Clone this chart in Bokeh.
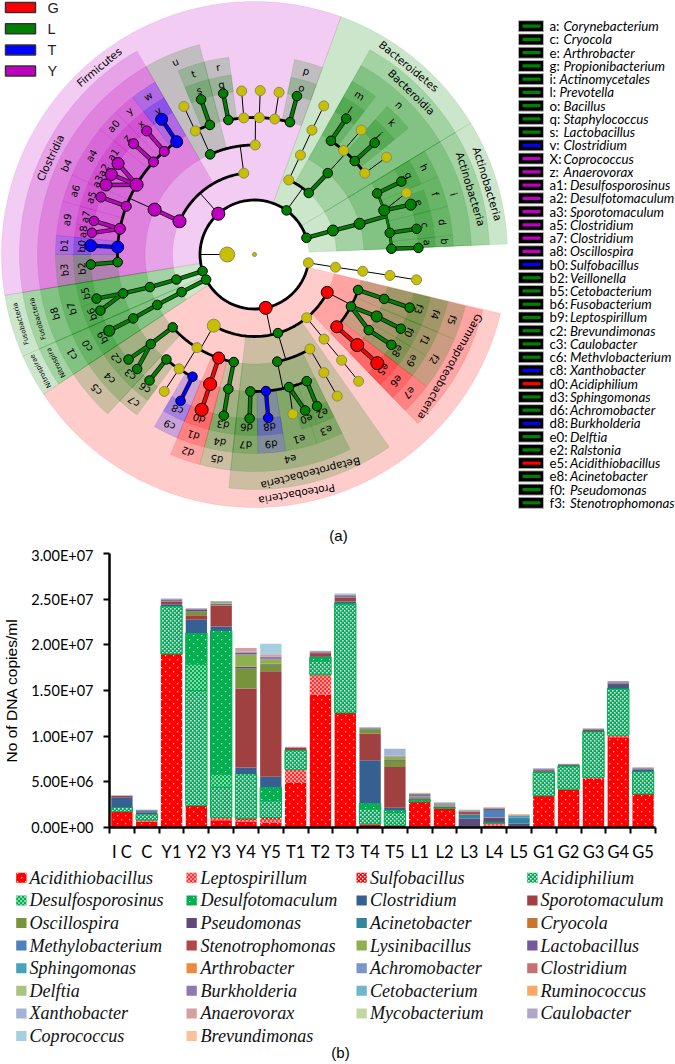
import math
import numpy as np
from bokeh.plotting import figure
from bokeh.models import Range1d, FixedTicker, CanvasTexture
from bokeh.core.properties import value
from bokeh.embed import file_html
from bokeh.resources import INLINE

# ---------- cladogram data: (id, parent, level, angle clockwise from east, class)
root_nodes = [("K", None, 1, 180, "n"), ("K0", None, 0, 0, "n")]
phylum_nodes = [("Act", "K", 2, 342.2, "L"), ("Bct", "K", 2, 306, "L"), ("Fir", "K", 2, 228.4, "Y"),
                ("Fus", "K", 2, 162.3, "L"), ("Nit", "K", 2, 152.6, "L"), ("Pro", "K", 2, 78.2, "G"),
                ("Unk", "K", 2, 8.8, "n")]
unknown_nodes = [("U1", "Unk", 3, 8.9, "n"), ("U2", "U1", 4, 8.8, "n"), ("U3", "U2", 5, 8.8, "n"), ("U4", "U3", 6, 8.9, "n")]
clostridia_nodes = [("Cl", "Fir", 3, 203.9, "Y"), ("b4", "Cl", 4, 204.2, "Y"),
    ("b3", "b4", 5, 176.8, "L"), ("b1", "b4", 5, 183.1, "T"), ("a9", "b4", 5, 190.8, "Y"), ("a6", "b4", 5, 200.6, "Y"),
    ("a4", "b4", 5, 210.6, "Y"), ("a0", "b4", 5, 222.5, "Y"), ("yy", "b4", 5, 228.8, "Y"), ("w", "b4", 5, 235.4, "T"),
    ("b2", "b3", 6, 176.5, "L"), ("b0", "b1", 6, 183.1, "T"), ("a8", "a9", 6, 187.6, "Y"), ("a7", "a9", 6, 191.8, "Y"),
    ("a5", "a6", 6, 200.5, "Y"), ("a3", "a4", 6, 205.1, "Y"), ("a2", "a4", 6, 209.2, "Y"), ("a1", "a4", 6, 213.7, "Y"),
    ("z", "a0", 6, 222.5, "Y"), ("x", "yy", 6, 228.9, "Y"), ("v", "w", 6, 235.5, "T")]
bacilli_nodes = [("Ba", "Fir", 3, 262.5, "n"), ("u", "Ba", 4, 246.1, "L"), ("B2", "Ba", 4, 270.4, "n"),
    ("B3", "u", 5, 244.4, "n"), ("t", "u", 5, 251, "L"), ("r", "B2", 5, 259, "L"), ("B4", "B2", 5, 265.5, "n"),
    ("B5", "B2", 5, 272, "n"), ("B6", "B2", 5, 278.5, "n"), ("p", "B2", 5, 285, "L"),
    ("B7", "B3", 6, 244.5, "n"), ("s", "t", 6, 251, "L"), ("q", "r", 6, 259, "L"), ("B8", "B4", 6, 265.5, "n"),
    ("B9", "B5", 6, 272, "n"), ("B10", "B6", 6, 278.6, "n"), ("o", "p", 6, 285, "L")]
bacteroidetes_nodes = [("C1", "Bct", 3, 294.7, "n"), ("C2", "Bct", 3, 311.4, "L"), ("C3", "C1", 4, 294.8, "n"),
    ("C4", "C3", 5, 294.8, "n"), ("C5", "C4", 6, 295, "n"), ("n", "C2", 4, 312, "L"),
    ("m", "n", 5, 303.9, "L"), ("C6", "n", 5, 310.6, "n"), ("k", "n", 5, 317, "L"), ("C7", "n", 5, 323.6, "n"),
    ("l", "m", 6, 304, "L"), ("C8", "C6", 6, 310.6, "n"), ("j", "k", 6, 317.1, "L"), ("C9", "C7", 6, 323.6, "n")]
actino_nodes = [("A1", "Act", 3, 343, "L"), ("i", "A1", 4, 343.7, "L"), ("h", "i", 5, 333.5, "L"), ("f", "i", 5, 341.2, "L"),
    ("d", "i", 5, 350.9, "L"), ("bb", "i", 5, 357.6, "L"), ("g", "h", 6, 333.6, "L"), ("A2", "f", 6, 337.9, "n"),
    ("e", "f", 6, 342.3, "L"), ("c", "d", 6, 351, "L"), ("a", "bb", 6, 357.7, "L")]
fuso_nodes = [("F1", "Fus", 3, 162.2, "L"), ("F2", "F1", 4, 162.7, "L"), ("F3", "F2", 5, 163.5, "L"),
    ("b5", "F3", 6, 164.4, "L"), ("b6", "F3", 6, 160, "L")]
nitro_nodes = [("N1", "Nit", 3, 152.7, "L"), ("N2", "N1", 4, 152.6, "L"), ("N3", "N2", 5, 152.2, "L"), ("b9", "N3", 6, 152.3, "L")]
alpha_nodes = [("P1", "Pro", 3, 119.8, "n"), ("c5", "P1", 4, 138.3, "L"), ("P2", "P1", 4, 121.7, "n"),
    ("d2", "P1", 4, 109.1, "G"), ("d5", "P1", 4, 100.9, "L"), ("c4", "c5", 5, 139.2, "L"), ("c7", "P2", 5, 130, "L"),
    ("P3", "P2", 5, 123.4, "n"), ("c9", "P2", 5, 116.9, "T"), ("d1", "d2", 5, 108.9, "G"), ("d4", "d5", 5, 101, "L"),
    ("c2", "c4", 6, 140.2, "L"), ("c3", "c4", 6, 135.7, "L"), ("c6", "c7", 6, 129.8, "L"), ("P4", "P3", 6, 123.4, "n"),
    ("c8", "c9", 6, 116.8, "T"), ("d0", "d1", 6, 108.8, "G"), ("d3", "d4", 6, 100.8, "L")]
beta_nodes = [("E1", "Pro", 3, 73.4, "L"), ("e4", "E1", 4, 78, "L"), ("E2", "E1", 4, 59.6, "n"), ("d7", "e4", 5, 91.7, "L"),
    ("d9", "e4", 5, 85.2, "T"), ("e1", "e4", 5, 75.4, "L"), ("e3", "e4", 5, 67.6, "L"), ("E3", "E2", 5, 59.6, "n"),
    ("d6", "d7", 6, 91.7, "L"), ("d8", "d9", 6, 85.2, "T"), ("E4", "e1", 6, 76.5, "n"), ("e0", "e1", 6, 72, "L"),
    ("e2", "e3", 6, 67.6, "L"), ("E5", "E3", 6, 59.7, "n")]
gamma_nodes = [("Y1", "Pro", 3, 50.5, "n"), ("Y2", "Y1", 4, 50.6, "n"), ("Y3", "Y2", 5, 50.5, "n"), ("Y4", "Y3", 6, 50.6, "n"),
    ("Ga", "Pro", 3, 27.5, "G"), ("f5", "Ga", 4, 18.9, "L"), ("f2", "Ga", 4, 28.3, "L"), ("e7", "Ga", 4, 41.3, "G"),
    ("f4", "f5", 5, 18.9, "L"), ("f1", "f2", 5, 26.9, "L"), ("e9", "f2", 5, 33.5, "L"), ("e6", "e7", 5, 41.4, "G"),
    ("f3", "f4", 6, 18.9, "L"), ("f0", "f1", 6, 26.9, "L"), ("e8", "e9", 6, 33.4, "L"), ("e5", "e6", 6, 41.5, "G")]
big_nodes = {"K": 15, "K0": 4, "a1": 12, "a2": 12, "a3": 12, "a4": 13, "v": 12, "w": 12, "b1": 12, "b0": 12, "Cl": 13, "b4": 13,
             "Fir": 13, "d0": 13, "d1": 13, "d2": 12, "e5": 13, "e6": 13, "e7": 12, "Ga": 12, "a6": 10, "a0": 10, "yy": 10, "x": 10, "z": 10,
             "Pro": 13, "P1": 13, "b9": 11, "f1": 11, "e": 11, "f": 11, "A1": 11, "i": 11, "a9": 11, "a5": 10}

# ---------- cladogram shaded clades: (label, level, start angle, end angle, class)
firmicutes_clades = [("Firmicutes", 2, 170.7, 290, "Y"), ("Clostridia", 3, 170.7, 240, "Y"), ("b4", 4, 170.7, 240, "Y"),
    ("b3", 5, 170.7, 180, "L"), ("b1", 5, 180, 185.5, "T"), ("a9", 5, 185.5, 195.5, "Y"), ("a6", 5, 195.5, 203.5, "Y"),
    ("a4", 5, 203.5, 219, "Y"), ("a0", 5, 219, 225.7, "Y"), ("y", 5, 225.7, 232.2, "Y"), ("w", 5, 232.2, 240, "T"),
    ("b2", 6, 170.7, 180, "L"), ("b0", 6, 180, 185.5, "T"), ("a8", 6, 185.5, 189.7, "Y"), ("a7", 6, 189.7, 195.5, "Y"),
    ("a5", 6, 195.5, 203, "Y"), ("a3", 6, 203, 207, "Y"), ("a2", 6, 207, 211.5, "Y"), ("a1", 6, 211.5, 219, "Y"),
    ("z", 6, 219, 225.7, "Y"), ("x", 6, 225.7, 232.2, "Y"), ("v", 6, 232.2, 240, "T"),
    ("u", 4, 240, 255.3, "L"), ("t", 5, 247.4, 255.3, "L"), ("s", 6, 247.4, 255.3, "L"), ("r", 5, 255.3, 262.6, "L"),
    ("q", 6, 255.3, 262.6, "L"), ("p", 5, 281.6, 290, "L"), ("o", 6, 281.6, 290, "L")]
bacteroidetes_clades = [("Bacteroidetes", 2, 290, 328.7, "L"), ("Bacteroidia", 3, 299.4, 328.7, "L"), ("n", 4, 299.4, 328.7, "L"),
    ("m", 5, 299.4, 307.5, "L"), ("l", 6, 299.4, 307.5, "L"), ("k", 5, 311.8, 320.6, "L"), ("j", 6, 311.8, 320.6, "L")]
actino_clades = [("Actinobacteria", 2, 328.7, 357.6, "L"), ("Actinobacteria", 3, 328.7, 357.6, "L"), ("i", 4, 328.7, 357.6, "L"),
    ("h", 5, 328.7, 337, "L"), ("f", 5, 337, 346, "L"), ("d", 5, 346, 354.5, "L"), ("b", 5, 354.5, 357.6, "L"),
    ("g", 6, 328.7, 337, "L"), ("e", 6, 339, 346, "L"), ("c", 6, 346, 354.5, "L"), ("a", 6, 354.5, 357.6, "L")]
fuso_clades = [("Fusobacteria", 2, 156.3, 170.7, "L"), ("Fusobacteria", 3, 156.3, 170.7, "L"), ("b8", 4, 156.3, 170.7, "L"),
    ("b7", 5, 156.3, 170.7, "L"), ("b5", 6, 163.3, 170.7, "L"), ("b6", 6, 156.3, 163.3, "L")]
nitro_clades = [("Nitrospirae", 2, 146.5, 156.3, "L"), ("Nitrospira", 3, 146.5, 156.3, "L"), ("c1", 4, 146.5, 156.3, "L"),
    ("c0", 5, 146.5, 156.3, "L"), ("b9", 6, 146.5, 156.3, "L")]
proteo_clades = [("Proteobacteria", 2, 13.5, 146.5, "G"), ("Betaproteobacteria", 3, 55, 96.3, "L"), ("e4", 4, 63.9, 96.3, "L"),
    ("e3", 5, 63.9, 71.7, "L"), ("e1", 5, 71.7, 81, "L"), ("d9", 5, 81, 89, "T"), ("d7", 5, 89, 96.3, "L"),
    ("e2", 6, 63.9, 69.9, "L"), ("e0", 6, 69.9, 75, "L"), ("d8", 6, 81, 89, "T"), ("d6", 6, 89, 96.3, "L"),
    ("Gammaproteobacteria", 3, 13.7, 46, "G"), ("f5", 4, 13.7, 23, "L"), ("f2", 4, 23, 37.5, "L"), ("e7", 4, 37.5, 46, "G"),
    ("f4", 5, 13.7, 23, "L"), ("f1", 5, 23, 30.5, "L"), ("e9", 5, 30.5, 37.5, "L"), ("e6", 5, 37.5, 46, "G"),
    ("f3", 6, 13.7, 23, "L"), ("f0", 6, 23, 30.5, "L"), ("e8", 6, 30.5, 37.5, "L"), ("e5", 6, 37.5, 46, "G"),
    ("c5", 4, 132.6, 146.5, "L"), ("c4", 5, 132.6, 146.5, "L"), ("c2", 6, 139.4, 146.5, "L"), ("c3", 6, 132.6, 139.4, "L"),
    ("c7", 5, 126.2, 132.6, "L"), ("c6", 6, 126.2, 132.6, "L"), ("c9", 5, 112.8, 120.2, "T"), ("c8", 6, 112.8, 120.2, "T"),
    ("d2", 4, 104.6, 112.8, "G"), ("d1", 5, 104.6, 112.8, "G"), ("d0", 6, 104.6, 112.8, "G"),
    ("d5", 4, 96.3, 104.6, "L"), ("d4", 5, 96.3, 104.6, "L"), ("d3", 6, 96.3, 104.6, "L")]

class_names = ["G", "L", "T", "Y"]
taxa_prefix = ["a", "c", "e", "g", "i", "l", "o", "q", "s", "v", "X", "z", "a1", "a2", "a3", "a5", "a7", "a8", "b0", "b2", "b5", "b6", "b9",
               "c2", "c3", "c6", "c8", "d0", "d3", "d6", "d8", "e0", "e2", "e5", "e8", "f0", "f3"]
taxa_names = ["Corynebacterium", "Cryocola", "Arthrobacter", "Propionibacterium", "Actinomycetales", "Prevotella", "Bacillus",
              "Staphylococcus", "Lactobacillus", "Clostridium", "Coprococcus", "Anaerovorax", "Desulfosporosinus", "Desulfotomaculum",
              "Sporotomaculum", "Clostridium", "Clostridium", "Oscillospira", "Sulfobacillus", "Veillonella", "Cetobacterium",
              "Fusobacterium", "Leptospirillum", "Brevundimonas", "Caulobacter", "Methvlobacterium", "Xanthobacter", "Acidiphilium",
              "Sphingomonas", "Achromobacter", "Burkholderia", "Delftia", "Ralstonia", "Acidithiobacillus", "Acinetobacter",
              "Pseudomonas", "Stenotrophomonas"]
taxa_class = ["L"] * 9 + ["T"] + ["Y"] * 8 + ["T"] + ["L"] * 7 + ["T", "G", "L", "L", "T", "L", "L", "G", "L", "L", "L"]

# ---------- bar chart data, millions of copies per ml
samples = ["I C", "C", "Y1", "Y2", "Y3", "Y4", "Y5", "T1", "T2", "T3", "T4", "T5", "L1", "L2", "L3", "L4", "L5", "G1", "G2", "G3", "G4", "G5"]
y_ticks = [0, 5e6, 1e7, 1.5e7, 2e7, 2.5e7, 3e7]
y_tick_labels = ["0.00E+00", "5.00E+06", "1.00E+07", "1.50E+07", "2.00E+07", "2.50E+07", "3.00E+07"]
Acidithiobacillus = [1.76, .66, 19.0, 2.4, .8, .66, .55, 4.87, 14.53, 12.55, .3, .25, 2.82, 2.09, .02, .2, .02, 3.48, 4.2, 5.3, 9.88, 3.66]
Leptospirillum = [0, .15, 0, 0, .3, .15, .3, 1.46, 2.2, 0, .07, 0, 0, 0, 0, .15, 0, 0, 0, .18, .22, 0]
Sulfobacillus = [0, 0, 0, 0, 0, .2, .25, 0, 0, 0, 0, 0, 0, 0, 0, .1, 0, 0, 0, 0, 0, 0]
Acidiphilium = [.44, .65, 5.2, 12.6, 3.3, 4.85, 1.83, 2.1, 1.5, 11.9, 1.65, 1.4, 0, 0, .05, 0, 0, 2.56, 2.53, 5.0, 5.08, 2.45]
Desulfosporosinus = [0, 0, 0, 2.9, 1.45, 0, 0, 0, 0, 0, 0, 0, 0, 0, 0, 0, 0, 0, 0, 0, 0, 0]
Desulfotomaculum = [0, 0, .05, 3.4, 15.7, 0, 1.47, .05, .44, .1, .63, .25, .22, .11, .1, .08, 0, .03, .03, .03, .03, .03]
Clostridium = [1.1, .2, .2, 1.45, .45, .7, 1.16, 0, .05, .2, 4.7, .25, .06, .06, 0, 0, .05, .05, .05, .05, .4, .2]
Sporotomaculum = [.14, .05, .3, .5, 2.3, 8.65, 11.56, .25, .3, .44, 2.93, 4.47, .1, .05, 0, 0, 0, .15, .05, .12, .12, .1]
Oscillospira = [0, 0, .03, .44, .1, 2.2, .73, 0, 0, .03, .47, .7, .12, .05, 0, .03, 0, 0, 0, 0, .05, 0]
Pseudomonas = [0, .08, .1, .12, .08, .15, .08, .03, .1, .1, .08, .06, .03, .03, .8, .5, .35, .06, .03, .06, .06, .03]
Acinetobacter = [0, .03, 0, 0, 0, 0, 0, 0, 0, 0, 0, 0, .05, .05, .46, 0, .5, 0, 0, 0, .03, 0]
Cryocola = [0, 0, 0, 0, 0, 0, 0, 0, 0, 0, 0, 0, .03, .05, 0, .05, 0, 0, 0, 0, 0, 0]
Methylobacterium = [0, .03, .03, .02, .02, .03, 0, 0, .03, .08, 0, 0, .12, .06, 0, .8, .2, .05, .03, .03, .06, .05]
Stenotrophomonas = [.03, .02, .03, .03, .02, 0, 0, .02, .06, .03, 0, 0, .1, .05, .26, .12, 0, .03, .02, .02, .03, .02]
Lysinibacillus = [0, 0, 0, 0, .15, 1.35, .5, 0, 0, 0, 0, .37, 0, 0, 0, 0, 0, 0, 0, 0, 0, 0]
Lactobacillus = [0, .05, .03, .05, .05, .2, .1, 0, .03, .03, .05, .05, .02, .02, .03, .05, 0, .02, .02, .02, .03, 0]
Sphingomonas = [0, .03, 0, 0, 0, 0, 0, 0, 0, 0, 0, 0, .02, .05, .1, .05, .2, 0, 0, 0, 0, 0]
Arthrobacter = [0, 0, 0, 0, 0, 0, 0, 0, 0, 0, 0, 0, .03, .03, .03, .02, .05, 0, 0, 0, 0, 0]
Achromobacter = [0, 0, .03, .03, .02, .05, 0, .02, .03, .05, .05, 0, .02, .03, .04, .05, .03, .02, 0, .02, .03, 0]
Clostridium_b = [.02, 0, 0, 0, 0, 0, 0, 0, .02, 0, 0, 0, .02, .02, .03, 0, 0, 0, 0, 0, .03, .04]
Delftia = [0, 0, 0, 0, 0, 0, 0, 0, 0, 0, .02, .03, 0, 0, 0, 0, 0, 0, 0, 0, 0, 0]
Burkholderia = [0, 0, .03, .03, .02, .05, .2, 0, .03, 0, 0, .03, 0, 0, 0, 0, 0, 0, 0, 0, 0, 0]
Cetobacterium = [0, 0, 0, 0, 0, 0, 0, 0, 0, 0, 0, 0, 0, 0, 0, 0, .03, 0, 0, 0, 0, 0]
Ruminococcus = [0, 0, 0, 0, 0, 0, 0, 0, 0, 0, 0, 0, .02, .02, .03, .03, .04, 0, 0, 0, 0, 0]
Xanthobacter = [0, 0, .03, .03, 0, 0, 0, .03, .02, .08, 0, .73, 0, 0, 0, 0, 0, .03, .02, 0, 0, 0]
Anaerovorax = [0, 0, 0, 0, 0, .4, .25, 0, 0, 0, 0, 0, 0, 0, 0, 0, 0, 0, 0, 0, 0, 0]
Mycobacterium = [0, 0, 0, 0, 0, 0, 0, 0, 0, 0, 0, 0, 0, 0, 0, 0, 0, 0, 0, 0, 0, 0]
Caulobacter = [0, 0, 0, .03, .03, 0, 0, 0, 0, .02, .05, .02, 0, 0, 0, 0, 0, 0, 0, 0, 0, 0]
Coprococcus = [0, 0, 0, 0, 0, 0, 1.13, 0, 0, 0, 0, 0, 0, 0, 0, 0, 0, 0, 0, 0, 0, 0]
Brevundimonas = [0, 0, 0, 0, 0, 0, 0, 0, 0, 0, 0, 0, .02, .01, .02, .02, .02, 0, 0, 0, 0, 0]

series = [("Acidithiobacillus", Acidithiobacillus), ("Leptospirillum", Leptospirillum), ("Sulfobacillus", Sulfobacillus),
          ("Acidiphilium", Acidiphilium), ("Desulfosporosinus", Desulfosporosinus), ("Desulfotomaculum", Desulfotomaculum),
          ("Clostridium", Clostridium), ("Sporotomaculum", Sporotomaculum), ("Oscillospira", Oscillospira),
          ("Pseudomonas", Pseudomonas), ("Acinetobacter", Acinetobacter), ("Cryocola", Cryocola),
          ("Methylobacterium", Methylobacterium), ("Stenotrophomonas", Stenotrophomonas), ("Lysinibacillus", Lysinibacillus),
          ("Lactobacillus", Lactobacillus), ("Sphingomonas", Sphingomonas), ("Arthrobacter", Arthrobacter),
          ("Achromobacter", Achromobacter), ("Clostridium", Clostridium_b), ("Delftia", Delftia), ("Burkholderia", Burkholderia),
          ("Cetobacterium", Cetobacterium), ("Ruminococcus", Ruminococcus), ("Xanthobacter", Xanthobacter),
          ("Anaerovorax", Anaerovorax), ("Mycobacterium", Mycobacterium), ("Caulobacter", Caulobacter),
          ("Coprococcus", Coprococcus), ("Brevundimonas", Brevundimonas)]
series_colors = ["#ff0000", "#ff3030", "#ff0000", "#00b050", "#00b050", "#00b050", "#376092", "#a04040", "#77933c", "#604a7b", "#31859c",
                 "#c87530", "#4f81bd", "#b04848", "#8fb04f", "#73589a", "#45a3bd", "#ee8a3c", "#7a96c8", "#c87070", "#a9c47f",
                 "#8f7ab0", "#6fb7d0", "#fba765", "#a3b4d8", "#d6a0a0", "#c4d6a0", "#b2a6c8", "#a5cfdf", "#fcc09a"]

# ---------- fill textures
sparse_dots = CanvasTexture(code="ctx.canvas.width=8;ctx.canvas.height=8;ctx.fillStyle='rgba(255,255,255,0.9)';ctx.fillRect(1,1,1.2,1.2);ctx.fillRect(5,5,1.2,1.2);", repetition="repeat")
fine_check = CanvasTexture(code="ctx.canvas.width=4;ctx.canvas.height=4;ctx.fillStyle='rgba(255,255,255,0.95)';ctx.fillRect(0,0,1.5,1.5);ctx.fillRect(2,2,1.5,1.5);", repetition="repeat")
check_strong = CanvasTexture(code="ctx.canvas.width=4;ctx.canvas.height=4;ctx.fillStyle='rgba(255,255,255,0.5)';ctx.fillRect(0,0,2,2);ctx.fillRect(2,2,2,2);", repetition="repeat")
textures = {"sparse": sparse_dots, "fine": fine_check, "strong": check_strong}
series_hatch = {0: "sparse", 1: "strong", 2: "fine", 3: "fine", 4: "strong", 5: "sparse"}


def hatch_args(i):
    if i not in series_hatch:
        return {}
    return dict(hatch_pattern=value(series_hatch[i]), hatch_extra=textures, hatch_color="white")


# ---------- page geometry
CX, CY = 254, 254
F1H, F2H, F3H = 546, 318, 200
RAD = {0: 0, 1: 27.3, 2: 54.5, 3: 82, 4: 109.5, 5: 137, 6: 164}
OUT = {2: 253, 3: 235, 4: 217, 5: 199, 6: 181}
LAB = {2: 243.5, 3: 226, 4: 208, 5: 190.5, 6: 173}
COL = {"G": "#ff0000", "L": "#008000", "T": "#0000ff", "Y": "#c000c0", "n": "#c8bf00"}


def pol(r, a):
    t = math.radians(a)
    return r * math.cos(t), -r * math.sin(t)


def base(w, h, xr, yr):
    f = figure(width=w, height=h, x_range=xr, y_range=yr, output_backend="svg", toolbar_location=None,
               min_border=0, min_border_left=0, min_border_right=0, min_border_top=0, min_border_bottom=0, margin=0)
    f.outline_line_color = None
    f.grid.visible = False
    f.axis.visible = False
    return f


# ---------- cladogram
f1 = base(675, F1H, Range1d(-CX, 675 - CX), Range1d(CY - F1H, CY))
clades = firmicutes_clades + bacteroidetes_clades + actino_clades + fuso_clades + nitro_clades + proteo_clades
clades = sorted(clades, key=lambda c: c[1])
xs, ys, cs = [], [], []
for lab, lev, a0, a1, cl in clades:
    ang = np.linspace(a0, a1, max(4, int(a1 - a0) * 2))
    xo = [pol(OUT[lev], a)[0] for a in ang]
    yo = [pol(OUT[lev], a)[1] for a in ang]
    xi = [pol(RAD[lev], a)[0] for a in ang[::-1]]
    yi = [pol(RAD[lev], a)[1] for a in ang[::-1]]
    xs.append(xo + xi); ys.append(yo + yi); cs.append(COL[cl])
f1.patches(xs, ys, fill_color=cs, fill_alpha=0.2, line_color=cs, line_alpha=0.12, line_width=0.8)

nodes = (root_nodes + phylum_nodes + unknown_nodes + clostridia_nodes + bacilli_nodes + bacteroidetes_nodes + actino_nodes
         + fuso_nodes + nitro_nodes + alpha_nodes + beta_nodes + gamma_nodes)
by_id = {n[0]: n for n in nodes}
kids = {}
for n in nodes:
    if n[1]:
        kids.setdefault(n[1], []).append(n)
FAN = {"f2"}
GREEN_ARC = {"i"}


def edge(x0, y0, x1, y1, cl):
    if cl == "n":
        thin_x.append([x0, x1]); thin_y.append([y0, y1])
    else:
        col_x.append([x0, x1]); col_y.append([y0, y1]); col_c.append(COL[cl])


thin_x, thin_y, col_x, col_y, col_c, arc_x, arc_y, arc_c = [], [], [], [], [], [], [], []
for pid, ch in kids.items():
    p_ = by_id[pid]
    px_, py_ = pol(RAD[p_[2]], p_[3])
    lev = ch[0][2]
    if len(ch) == 1 or lev == 6 or pid in FAN:
        for c in ch:
            cx_, cy_ = pol(RAD[c[2]], c[3])
            edge(px_, py_, cx_, cy_, c[4])
    else:
        a = sorted(c[3] for c in ch)
        ang = np.linspace(a[0], a[-1], 80)
        arc_x.append([pol(RAD[lev], t)[0] for t in ang]); arc_y.append([pol(RAD[lev], t)[1] for t in ang])
        arc_c.append(COL["L"] if pid in GREEN_ARC else "black")
        sx_, sy_ = pol(RAD[lev], p_[3])
        if pid in GREEN_ARC:
            edge(px_, py_, sx_, sy_, "L")
        else:
            thin_x.append([px_, sx_]); thin_y.append([py_, sy_])

f1.multi_line(thin_x, thin_y, line_color="black", line_width=1)
f1.multi_line(arc_x, arc_y, line_color="black", line_width=2.8)
f1.multi_line([x for x, c in zip(arc_x, arc_c) if c != "black"], [y for y, c in zip(arc_y, arc_c) if c != "black"],
              line_color=COL["L"], line_width=2.2)
f1.multi_line(col_x, col_y, line_color="#111111", line_width=4.4)
f1.multi_line(col_x, col_y, line_color=col_c, line_width=2.8)

nx = [pol(RAD[n[2]], n[3])[0] for n in nodes]
ny = [pol(RAD[n[2]], n[3])[1] for n in nodes]
nc = [COL[n[4]] for n in nodes]
nl = ["#8a8a60" if n[4] == "n" else "black" for n in nodes]
ns = [big_nodes.get(n[0], 10 if n[4] == "n" else 9.5) for n in nodes]
f1.scatter(nx, ny, size=ns, fill_color=nc, line_color=nl, line_width=1)

SMALL = {"Fusobacteria": 6.8, "Nitrospirae": 6.8, "Nitrospira": 6.8}
by_size = {}
for lab, lev, a0, a1, cl in clades:
    fs = SMALL.get(lab, 10.6 if len(lab) > 2 else 10)
    by_size.setdefault(fs, []).append((lab, lev, a0, a1))
for fs, items in by_size.items():
    tx = [pol(LAB[i[1]], (i[2] + i[3]) / 2)[0] for i in items]
    ty = [pol(LAB[i[1]], (i[2] + i[3]) / 2)[1] for i in items]
    ta = [-math.radians((i[2] + i[3]) / 2 + 90) for i in items]
    f1.text(tx, ty, text=[i[0] for i in items], angle=ta, text_align="center", text_baseline="middle",
            text_font=value("DejaVu Sans"), text_font_size=f"{fs}px", text_color="black")

# top-left class key
kx0, kx1 = 5 - CX, 35 - CX
ky = [CY - (7 + 21.2 * i) for i in range(4)]
f1.quad(left=kx0, right=kx1, top=[y + 5 for y in ky], bottom=[y - 5 for y in ky], fill_color=[COL[c] for c in class_names],
        line_color="#333333", line_width=1.5)
f1.text([47 - CX] * 4, ky, text=class_names, text_baseline="middle", text_font=value("Liberation Sans"), text_font_size="14.5px", text_color="#222222")

# right-hand taxa key
ry = [CY - (25.7 + 13.24 * i) for i in range(len(taxa_names))]
f1.quad(left=518 - CX, right=543 - CX, top=[y + 5.5 for y in ry], bottom=[y - 5.5 for y in ry], fill_color="black", line_color="#bbbbbb", line_width=0.8)
f1.quad(left=522 - CX, right=540 - CX, top=[y + 1.6 for y in ry], bottom=[y - 1.6 for y in ry], fill_color=[COL[c] for c in taxa_class], line_color=None)
f1.text([549 - CX] * len(ry), ry, text=[p + ":" for p in taxa_prefix], text_baseline="middle", text_font=value("Lato"), text_font_size="13.3px", text_color="black")
offs = [(10 if p in ("i", "l") else (20.5 if len(p) > 1 else 14)) for p in taxa_prefix]
f1.text([549 - CX + o for o in offs], ry, text=taxa_names, text_baseline="middle", text_font=value("Lato"), text_font_style="italic",
        text_font_size="13.3px", text_color="black")
f1.text([338 - CX], [CY - 535], text=["(a)"], text_align="center", text_baseline="middle", text_font=value("Liberation Sans"), text_font_size="15px", text_color="black")

# ---------- stacked bars
f2 = figure(width=675, height=F2H, x_range=Range1d(0, len(samples)), y_range=Range1d(0, 3e7), output_backend="svg", toolbar_location=None,
            min_border_left=108, min_border_right=20, min_border_top=7, min_border_bottom=37, margin=0)
f2.outline_line_color = None
f2.grid.visible = False
bottom = np.zeros(len(samples))
centers = np.arange(len(samples)) + 0.5
for i, (nm, vals) in enumerate(series):
    v = np.array(vals, dtype=float) * 1e6
    f2.vbar(x=centers[v > 0], width=0.86, bottom=bottom[v > 0], top=(bottom + v)[v > 0], fill_color=series_colors[i],
            line_color=series_colors[i] if i in (3, 4, 5) else None, line_width=1, **hatch_args(i))
    bottom += v

ya = f2.yaxis[0]
ya.ticker = FixedTicker(ticks=y_ticks)
ya.major_label_overrides = dict(zip(y_ticks, y_tick_labels))
ya.major_label_text_font = "Lato"
ya.major_label_text_font_size = "14.5px"
ya.major_label_text_color = "black"
ya.axis_line_width = 2.5
ya.major_tick_line_width = 2
ya.major_tick_out = 6
ya.major_tick_in = 0
ya.minor_tick_line_color = None
ya.axis_label = "No of DNA copies/ml"
ya.axis_label_text_font = "Liberation Sans"
ya.axis_label_text_font_style = "normal"
ya.axis_label_text_font_size = "15.5px"
ya.axis_label_text_color = "black"
ya.axis_label_standoff = 8
ya.major_label_standoff = 10

xa = f2.xaxis[0]
xa.ticker = FixedTicker(ticks=list(centers), minor_ticks=list(range(len(samples) + 1)))
xa.major_label_overrides = {float(c): s for c, s in zip(centers, samples)}
xa.major_label_text_font = "Lato"
xa.major_label_text_font_size = "16.5px"
xa.major_label_text_color = "black"
xa.axis_line_width = 2.5
xa.major_tick_line_color = None
xa.major_tick_out = 6
xa.minor_tick_line_color = "black"
xa.minor_tick_line_width = 2
xa.minor_tick_out = 6
xa.minor_tick_in = 0
xa.major_label_standoff = 8

# ---------- species key
f3 = base(675, F3H, Range1d(0, 675), Range1d(1064, 1064 - F3H))
col_sw = [15.7, 186, 356, 526.7]
col_tx = [29, 200, 369.5, 540]
for i, (nm, vals) in enumerate(series):
    c, r = i % 4, i // 4
    y = 877.3 + 22.6 * r
    f3.quad(left=col_sw[c], right=col_sw[c] + 10.3, top=y - 5, bottom=y + 5, fill_color=series_colors[i], line_color=None, **hatch_args(i))
    f3.text([col_tx[c]], [y], text=[nm], text_baseline="middle", text_font=value("Liberation Serif"), text_font_style="italic",
            text_font_size="18.1px", text_color="#111111")
f3.text([340], [1052], text=["(b)"], text_align="center", text_baseline="middle", text_font=value("Liberation Sans"), text_font_size="15px", text_color="black")

open("out.html", "w").write(file_html([f1, f2, f3], INLINE))
